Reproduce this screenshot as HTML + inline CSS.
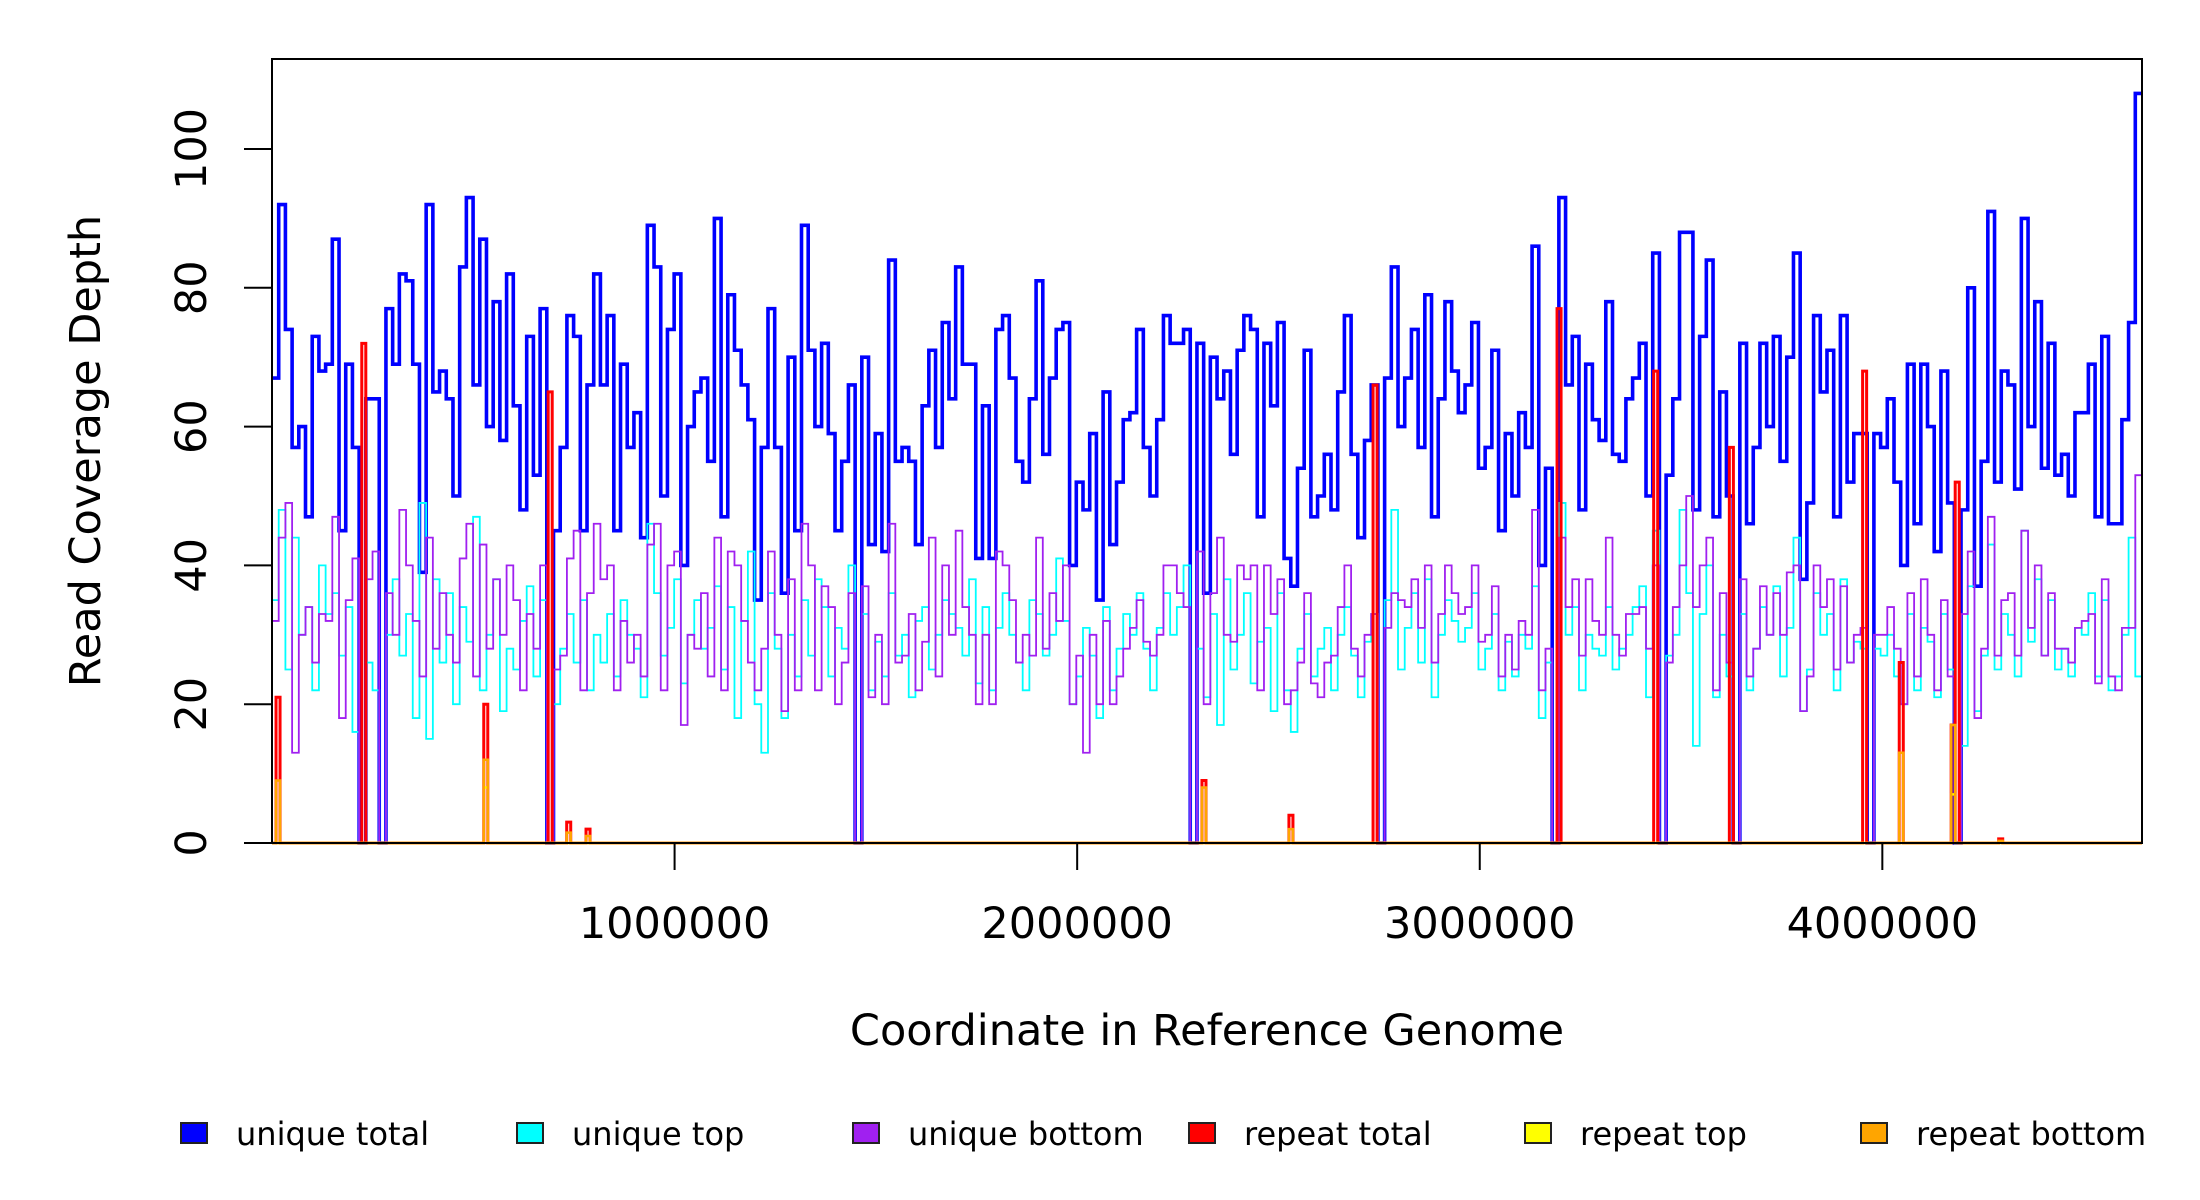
<!DOCTYPE html>
<html><head><meta charset="utf-8">
<style>
html,body{margin:0;padding:0;background:#fff;}
svg{display:block;font-family:"DejaVu Sans","Liberation Sans",sans-serif;}
</style></head>
<body>
<svg id="chart" width="2200" height="1200" viewBox="0 0 2200 1200" xmlns="http://www.w3.org/2000/svg">
  <g id="series"></g>
  <rect x="272" y="59" width="1870" height="784" fill="none" stroke="#000" stroke-width="2"/>
  <g id="axes"></g>
  <text x="1207" y="1045" font-size="43" text-anchor="middle">Coordinate in Reference Genome</text>
  <text transform="translate(100,451) rotate(-90)" font-size="43" text-anchor="middle">Read Coverage Depth</text>
  <g id="legend"></g>
</svg>
<script>
const genomeLength = 4645000;
const yTicks = [0, 20, 40, 60, 80, 100];
const xTicks = [1000000, 2000000, 3000000, 4000000];
const xTickLabels = ["1000000", "2000000", "3000000", "4000000"];
const uniqueTotal = [
67,92,74,57,60,47,73,68,69,87,
45,69,57,0,64,64,0,77,69,82,
81,69,39,92,65,68,64,50,83,93,
66,87,60,78,58,82,63,48,73,53,
77,0,45,57,76,73,45,66,82,66,
76,45,69,57,62,44,89,83,50,74,
82,40,60,65,67,55,90,47,79,71,
66,61,35,57,77,57,36,70,45,89,
71,60,72,59,45,55,66,0,70,43,
59,42,84,55,57,55,43,63,71,57,
75,64,83,69,69,41,63,41,74,76,
67,55,52,64,81,56,67,74,75,40,
52,48,59,35,65,43,52,61,62,74,
57,50,61,76,72,72,74,0,72,36,
70,64,68,56,71,76,74,47,72,63,
75,41,37,54,71,47,50,56,48,65,
76,56,44,58,66,0,67,83,60,67,
74,57,79,47,64,78,68,62,66,75,
54,57,71,45,59,50,62,57,86,40,
54,0,93,66,73,48,69,61,58,78,
56,55,64,67,72,50,85,0,53,64,
88,88,48,73,84,47,65,50,0,72,
46,57,72,60,73,55,70,85,38,49,
76,65,71,47,76,52,59,59,0,59,
57,64,52,40,69,46,69,60,42,68,
49,0,48,80,37,55,91,52,68,66,
51,90,60,78,54,72,53,56,50,62,
62,69,47,73,46,46,61,75,108];
const uniqueTop = [
35,48,25,44,30,34,22,40,33,36,
27,34,16,0,26,22,0,30,38,27,
33,18,49,15,38,26,36,20,34,29,
47,22,30,38,19,28,25,32,37,24,
35,0,20,28,33,26,35,22,30,26,
33,24,35,30,28,21,46,36,27,31,
38,23,30,35,28,31,37,25,34,18,
32,42,20,13,36,28,18,30,24,35,
27,38,34,24,31,28,40,0,33,22,
29,24,36,27,30,21,32,34,25,30,
35,33,31,27,38,23,34,22,31,36,
30,26,22,35,33,27,30,41,32,20,
24,31,27,18,34,22,28,33,30,36,
28,22,31,36,30,34,40,0,28,21,
33,17,38,25,30,36,23,29,31,19,
36,22,16,28,33,24,28,31,22,30,
34,27,21,29,33,0,35,48,25,31,
36,26,38,21,30,35,32,29,31,36,
25,28,33,22,29,24,30,28,37,18,
26,0,49,30,34,22,30,28,27,34,
25,28,30,34,37,21,45,0,27,30,
48,36,14,33,40,21,30,24,0,33,
22,28,34,30,37,24,31,44,19,25,
36,30,33,22,38,26,29,28,0,28,
27,30,24,20,33,22,31,29,21,33,
25,0,14,37,19,27,43,25,33,30,
24,45,29,38,27,35,25,28,24,31,
30,36,24,35,22,24,30,44,24];
const uniqueBottom = [
32,44,49,13,30,34,26,33,32,47,
18,35,41,0,38,42,0,36,30,48,
40,32,24,44,28,36,30,26,41,46,
24,43,28,38,30,40,35,22,33,28,
40,0,25,27,41,45,22,36,46,38,
40,22,32,26,30,24,43,46,22,40,
42,17,30,28,36,24,44,22,42,40,
32,26,22,28,42,30,19,38,22,46,
40,22,37,34,20,26,36,0,37,21,
30,20,46,26,27,33,22,29,44,24,
40,30,45,34,30,20,30,20,42,40,
35,26,30,27,44,28,36,32,40,20,
27,13,30,20,32,20,24,28,31,35,
29,27,30,40,40,36,34,0,42,20,
36,44,30,29,40,38,40,22,40,33,
38,20,22,26,36,23,21,26,27,34,
40,28,24,30,33,0,31,36,35,34,
38,31,40,26,33,40,36,33,34,40,
29,30,37,24,30,25,32,30,48,22,
28,0,44,34,38,27,38,32,30,44,
30,27,33,33,34,28,40,0,26,34,
40,50,34,40,44,22,36,26,0,38,
24,28,37,30,36,30,39,40,19,24,
40,34,38,25,37,26,30,31,0,30,
30,34,28,20,36,24,38,30,22,35,
24,0,33,42,18,28,47,27,35,36,
27,45,31,40,27,36,28,28,26,31,
32,33,23,38,24,22,31,31,53];
const repeatPositions = [10000,223000,526000,686000,732000,780000,2310000,2526000,2735000,3192000,3432000,3620000,3951000,4042000,4171000,4181000,4289000];
const repeatTotal     = [21,72,20,65,3,2,9,4,66,77,68,57,68,26,17,52,0.6];
const repeatTop       = [0,0,8,0,0,0,0,0,0,0,0,0,0,0,7,0,0];
const repeatBottom    = [9,0,12,0,1.5,1,8,2,0,0,0,0,0,13,17,0,0.3];
const repeatBinWidth = 10000;

const X0 = 272, X1 = 2142, Y0 = 843, YPX = 6.94;
function xScale(v){ return X0 + v / genomeLength * (X1 - X0); }
function yScale(v){ return Y0 - v * YPX; }
const NS = "http://www.w3.org/2000/svg";
function mk(tag, attrs){ const e = document.createElementNS(NS, tag); for (const k in attrs) e.setAttribute(k, attrs[k]); return e; }

const series = document.getElementById('series');
function stepPath(vals, color, width, name){
  const bw = genomeLength / vals.length;
  let d = "";
  vals.forEach((v, i) => {
    const xa = xScale(i * bw), xb = xScale((i + 1) * bw), y = yScale(v);
    d += (i === 0 ? "M" : "L") + xa.toFixed(2) + "," + y.toFixed(2) + "L" + xb.toFixed(2) + "," + y.toFixed(2);
  });
  const p = mk('path', {d: d, fill: "none", stroke: color, "stroke-width": width, "stroke-linejoin": "miter"});
  
  
  series.appendChild(p);
}
function spikePath(vals, color, width, name){
  let d = "M" + xScale(0) + "," + yScale(0);
  repeatPositions.forEach((pos, i) => {
    if (vals[i] <= 0) return;
    const xa = xScale(pos), xb = xScale(pos + repeatBinWidth), y = yScale(vals[i]);
    d += "L" + xa.toFixed(2) + "," + yScale(0) + "L" + xa.toFixed(2) + "," + y.toFixed(2) + "L" + xb.toFixed(2) + "," + y.toFixed(2) + "L" + xb.toFixed(2) + "," + yScale(0);
  });
  d += "L" + xScale(genomeLength) + "," + yScale(0);
  const p = mk('path', {d: d, fill: "none", stroke: color, "stroke-width": width});
  
  
  series.appendChild(p);
}
stepPath(uniqueTotal, "#0000ff", 3.6, "unique-total-line");
stepPath(uniqueTop, "#00ffff", 1.8, "unique-top-line");
stepPath(uniqueBottom, "#a020f0", 1.8, "unique-bottom-line");
spikePath(repeatTotal, "#ff0000", 3, "repeat-total-line");
spikePath(repeatTop, "#ffff00", 2.5, "repeat-top-line");
spikePath(repeatBottom, "#ffa500", 2.5, "repeat-bottom-line");

const axes = document.getElementById('axes');
yTicks.forEach(t => {
  const y = yScale(t);
  const l = mk('line', {x1: 244, x2: 272, y1: y, y2: y, stroke: "#000", "stroke-width": 2});
  
  
  axes.appendChild(l);
  const tx = mk('text', {transform: "translate(206," + y + ") rotate(-90)", "font-size": 43, "text-anchor": "middle"});
  
  
  tx.textContent = String(t);
  axes.appendChild(tx);
});
xTicks.forEach((t, i) => {
  const x = xScale(t);
  const l = mk('line', {x1: x, x2: x, y1: 843, y2: 870, stroke: "#000", "stroke-width": 2});
  
  
  axes.appendChild(l);
  const tx = mk('text', {x: x, y: 938, "font-size": 43, "text-anchor": "middle"});
  
  
  tx.textContent = xTickLabels[i];
  axes.appendChild(tx);
});

const legendLabels = ["unique total", "unique top", "unique bottom", "repeat total", "repeat top", "repeat bottom"];
const legendColors = ["#0000ff", "#00ffff", "#a020f0", "#ff0000", "#ffff00", "#ffa500"];
const legend = document.getElementById('legend');
legendLabels.forEach((lab, i) => {
  const bx = 181 + i * 336;
  const r = mk('rect', {x: bx, y: 1123, width: 26, height: 20, fill: legendColors[i], stroke: "#222", "stroke-width": 2});
  
  
  legend.appendChild(r);
  const t = mk('text', {x: bx + 55, y: 1145, "font-size": 32});
  
  
  t.textContent = lab;
  legend.appendChild(t);
});
</script>
</body></html>
